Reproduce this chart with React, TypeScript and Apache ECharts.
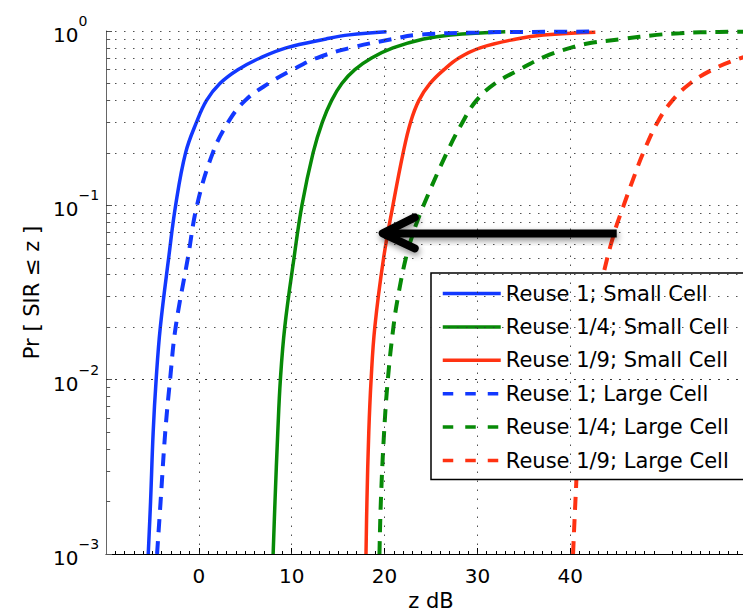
import React, { useEffect, useRef } from "react";
import * as echarts from "echarts";

// CDF of SIR (z in dB) for three reuse factors, small vs large cells.
const reuse1Small: [number, number][] = [
  [-5.45, 0.001], [-5.2, 0.002], [-4.92, 0.005], [-4.6, 0.01], [-4.15, 0.02],
  [-3.25, 0.05], [-2.5, 0.1], [-1.43, 0.2], [-0.25, 0.3], [0.83, 0.4],
  [2.26, 0.5], [4.2, 0.6], [6.6, 0.7], [9.4, 0.8], [13.7, 0.9], [16.2, 0.95],
  [20.2, 0.99],
];
const reuse4Small: [number, number][] = [
  [8.0, 0.001], [8.2, 0.002], [8.5, 0.005], [8.78, 0.01], [9.25, 0.02],
  [10.25, 0.05], [11.1, 0.1], [12.3, 0.2], [13.3, 0.3], [14.3, 0.4],
  [15.4, 0.5], [16.8, 0.6], [18.6, 0.7], [20.9, 0.8], [24.2, 0.9], [27.1, 0.95],
  [33.0, 0.99],
];
const reuse9Small: [number, number][] = [
  [18.0, 0.001], [18.1, 0.002], [18.3, 0.005], [18.55, 0.01], [18.95, 0.02],
  [19.9, 0.05], [20.9, 0.1], [22.0, 0.2], [22.8, 0.3], [23.7, 0.4],
  [24.9, 0.5], [26.4, 0.6], [28.0, 0.7], [30.3, 0.8], [34.2, 0.9], [37.1, 0.95],
  [42.7, 0.985],
];
const reuse1Large: [number, number][] = [
  [-4.5, 0.001], [-4.12, 0.002], [-3.62, 0.005], [-3.1, 0.01], [-2.5, 0.02],
  [-1.18, 0.05], [-0.2, 0.1], [1.5, 0.2], [3.16, 0.3], [5.0, 0.4],
  [7.5, 0.5], [10.1, 0.6], [12.7, 0.7], [16.3, 0.8], [20.9, 0.9], [23.5, 0.95],
  [30.0, 0.98], [36.0, 0.988], [42.7, 0.993],
];
const reuse4Large: [number, number][] = [
  [19.45, 0.001], [19.6, 0.002], [19.95, 0.005], [20.35, 0.01], [20.95, 0.02],
  [21.45, 0.03], [22.3, 0.05], [23.1, 0.07], [24.2, 0.1], [26.7, 0.2],
  [28.4, 0.3], [29.9, 0.4], [31.9, 0.5], [34.5, 0.6], [37.2, 0.71], [40.0, 0.8],
  [42.0, 0.85], [45.6, 0.9], [49.3, 0.95], [51.8, 0.97], [54.0, 0.983],
  [58.0, 0.99], [60.0, 0.992],
];
const reuse9Large: [number, number][] = [
  [40.3, 0.001], [40.55, 0.002], [40.95, 0.005], [41.55, 0.01], [42.35, 0.02],
  [43.55, 0.04], [44.75, 0.07], [45.75, 0.1], [46.95, 0.15], [47.85, 0.2],
  [49.4, 0.3], [51.0, 0.4], [52.9, 0.5], [55.3, 0.6], [57.7, 0.68], [60.0, 0.74],
];

const seriesNames = [
  "Reuse 1; Small Cell",
  "Reuse 1/4; Small Cell",
  "Reuse 1/9; Small Cell",
  "Reuse 1; Large Cell",
  "Reuse 1/4; Large Cell",
  "Reuse 1/9; Large Cell",
];

const xTickValues = [0, 10, 20, 30, 40];
const decadeStarts = [0.001, 0.01, 0.1];
const minorMultipliers = [2, 3, 4, 5, 6, 7, 8, 9];

// Arrow from the large-cell 1/9 curve back to the small-cell 1/9 curve.
const arrowTail: [number, number] = [45.0, 0.069];
const arrowTip: [number, number] = [19.8, 0.069];

const BLUE = "#1238ff";
const GREEN = "#078a07";
const RED = "#ff3212";
const FONT = "DejaVu Sans";

export default function App() {
  const ref = useRef<HTMLDivElement>(null);

  useEffect(() => {
    if (!ref.current) return;
    const chart = echarts.init(ref.current, null, { renderer: "svg" });

    const curves = [
      { name: seriesNames[0], data: reuse1Small, color: BLUE, dashed: false },
      { name: seriesNames[1], data: reuse4Small, color: GREEN, dashed: false },
      { name: seriesNames[2], data: reuse9Small, color: RED, dashed: false },
      { name: seriesNames[3], data: reuse1Large, color: BLUE, dashed: true },
      { name: seriesNames[4], data: reuse4Large, color: GREEN, dashed: true },
      { name: seriesNames[5], data: reuse9Large, color: RED, dashed: true },
    ];

    const minorValues: number[] = [];
    decadeStarts.forEach((d) => minorMultipliers.forEach((m) => minorValues.push(m * d)));
    const majorValues = [0.01, 0.1, 1];

    const dotted = { type: [1.5, 7.5] as number[], color: "#333", width: 1, opacity: 0.85 };

    chart.setOption({
      animation: false,
      textStyle: { fontFamily: FONT },
      grid: {
        left: 106,
        top: 31,
        width: 650,
        bottom: 59,
        containLabel: false,
        outerBoundsMode: "none",
      },
      xAxis: {
        type: "value",
        min: -10,
        max: 60,
        interval: 10,
        axisLine: { show: true, onZero: false, lineStyle: { color: "#000", width: 1 } },
        axisTick: {
          show: true,
          inside: true,
          length: 6,
          customValues: xTickValues,
          lineStyle: { color: "#000" },
        },
        minorTick: { show: true, splitNumber: 10, length: 3, lineStyle: { color: "#000" } },
        axisLabel: {
          customValues: xTickValues,
          fontSize: 20,
          fontFamily: FONT,
          color: "#000",
          margin: 12,
        },
        splitLine: { show: false },
        minorSplitLine: { show: false },
        name: "z dB",
        nameLocation: "middle",
        nameGap: 26,
        nameTextStyle: { fontSize: 21, fontFamily: FONT, color: "#000" },
      },
      yAxis: {
        type: "log",
        logBase: 10,
        min: 0.001,
        max: 1,
        axisLine: { show: true, onZero: false, lineStyle: { color: "#666", width: 1 } },
        axisTick: { show: true, inside: true, length: 6, lineStyle: { color: "#555" } },
        minorTick: { show: false },
        splitLine: { show: false },
        axisLabel: {
          margin: 53,
          align: "left",
          padding: [8, 0, 0, 0],
          formatter: (v: number) => {
            const k = Math.round(Math.log10(v));
            return "{b|10}{s|" + (k === 0 ? "0" : "\u2212" + -k) + "}";
          },
          rich: {
            b: { fontSize: 20, fontFamily: FONT, color: "#000", lineHeight: 42 },
            s: { fontSize: 14, fontFamily: FONT, color: "#000", lineHeight: 14, verticalAlign: "top" },
          },
        },
        name: "Pr [ SIR \u2264 z ]",
        nameLocation: "middle",
        nameRotate: 90,
        nameGap: 60,
        nameTextStyle: { fontSize: 21, fontFamily: FONT, color: "#000" },
      },
      legend: {
        orient: "vertical",
        left: 431,
        top: 273,
        padding: [8.5, 20, 7, 10],
        itemGap: 9.4,
        itemWidth: 58,
        itemHeight: 14,
        backgroundColor: "#fff",
        borderColor: "#000",
        borderWidth: 1.5,
        borderRadius: 0,
        selectedMode: false,
        textStyle: { fontSize: 21, fontFamily: FONT, color: "#000", lineHeight: 24 },
        data: curves.map((c) => ({
          name: c.name,
          itemStyle: { opacity: 0 },
          lineStyle: {
            color: c.color,
            width: 3.5,
            type: c.dashed ? [10.5, 12] : "solid",
          },
        })),
      },
      series: [
        {
          type: "line",
          name: "gridlines",
          data: [],
          silent: true,
          z: 1,
          markLine: {
            silent: true,
            symbol: ["none", "none"],
            label: { show: false },
            emphasis: { disabled: true },
            lineStyle: dotted,
            data: [
              ...majorValues.map((v) => ({ yAxis: v })),
              ...minorValues.map((v) => ({ yAxis: v })),
              ...xTickValues.map((v) => ({ xAxis: v })),
            ],
          },
        },
        {
          type: "line",
          name: "minorticks",
          data: [],
          silent: true,
          z: 2,
          markLine: {
            silent: true,
            symbol: ["none", "none"],
            label: { show: false },
            emphasis: { disabled: true },
            lineStyle: { type: "solid", color: "#555", width: 1 },
            data: minorValues.map((v) => [{ coord: [-10, v] }, { coord: [-9.55, v] }]),
          },
        },
        ...curves.map((c) => ({
          type: "line",
          name: c.name,
          data: c.data,
          symbol: "none",
          showSymbol: false,
          smooth: 0.4,
          silent: true,
          z: 3,
          emphasis: { disabled: true },
          itemStyle: { color: c.color },
          lineStyle: {
            color: c.color,
            width: c.dashed ? 4 : 3.5,
            type: c.dashed ? [13, 9] : "solid",
            cap: "butt",
          },
        })),
      ],
    });

    const tip = chart.convertToPixel({ xAxisIndex: 0, yAxisIndex: 0 }, arrowTip) as number[];
    const tail = chart.convertToPixel({ xAxisIndex: 0, yAxisIndex: 0 }, arrowTail) as number[];
    const shadow = {
      shadowBlur: 6,
      shadowColor: "rgba(0,0,0,0.45)",
      shadowOffsetX: 1,
      shadowOffsetY: 3,
    };
    chart.setOption({
      graphic: [
        {
          type: "rect",
          z: 20,
          shape: { x: tip[0] + 4, y: tip[1] - 4, width: tail[0] - tip[0] - 4, height: 8 },
          style: { fill: "#000", ...shadow },
        },
        {
          type: "polyline",
          z: 21,
          shape: {
            points: [
              [tip[0] + 32, tip[1] - 16],
              [tip[0], tip[1]],
              [tip[0] + 32, tip[1] + 15],
            ],
          },
          style: { stroke: "#000", fill: null, lineWidth: 8, lineCap: "round", lineJoin: "round", ...shadow },
        },
      ],
    });

    return () => chart.dispose();
  }, []);

  return (
    <div
      ref={ref}
      style={{ position: "fixed", left: 0, top: 0, width: 743, height: 613, background: "#fff" }}
    />
  );
}
